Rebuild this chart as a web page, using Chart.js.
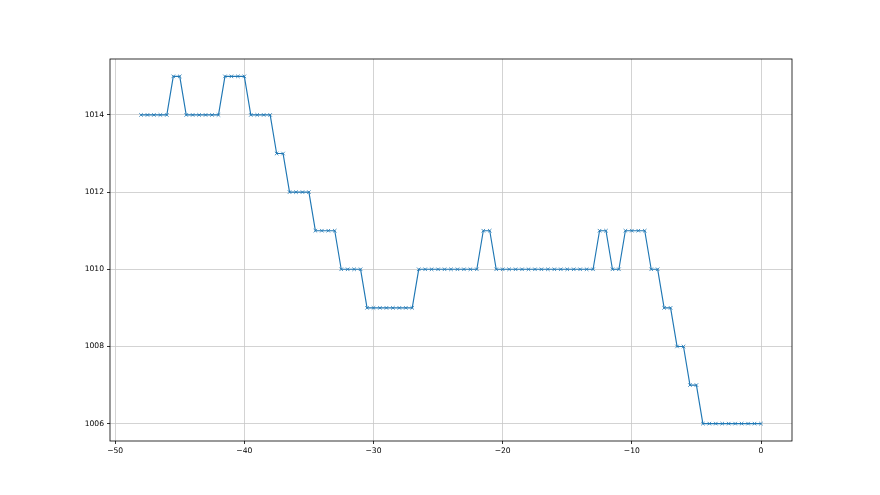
<!DOCTYPE html>
<html>
<head>
<meta charset="utf-8">
<script src="https://cdn.jsdelivr.net/npm/chart.js@4/dist/chart.umd.min.js"></script>
<style>
  html, body { margin: 0; padding: 0; background: #fff; }
  canvas { display: block; }
</style>
</head>
<body>
<canvas id="chart" width="880" height="495"></canvas>
<script>
// hours before now
const times = [
  -48, -47.5, -47, -46.5, -46, -45.5, -45, -44.5, -44, -43.5,
  -43, -42.5, -42, -41.5, -41, -40.5, -40, -39.5, -39, -38.5,
  -38, -37.5, -37, -36.5, -36, -35.5, -35, -34.5, -34, -33.5,
  -33, -32.5, -32, -31.5, -31, -30.5, -30, -29.5, -29, -28.5,
  -28, -27.5, -27, -26.5, -26, -25.5, -25, -24.5, -24, -23.5,
  -23, -22.5, -22, -21.5, -21, -20.5, -20, -19.5, -19, -18.5,
  -18, -17.5, -17, -16.5, -16, -15.5, -15, -14.5, -14, -13.5,
  -13, -12.5, -12, -11.5, -11, -10.5, -10, -9.5, -9, -8.5,
  -8, -7.5, -7, -6.5, -6, -5.5, -5, -4.5, -4, -3.5,
  -3, -2.5, -2, -1.5, -1, -0.5, 0
];

// pressure (hPa)
const pressure = [
  1014, 1014, 1014, 1014, 1014, 1015, 1015, 1014, 1014, 1014,
  1014, 1014, 1014, 1015, 1015, 1015, 1015, 1014, 1014, 1014,
  1014, 1013, 1013, 1012, 1012, 1012, 1012, 1011, 1011, 1011,
  1011, 1010, 1010, 1010, 1010, 1009, 1009, 1009, 1009, 1009,
  1009, 1009, 1009, 1010, 1010, 1010, 1010, 1010, 1010, 1010,
  1010, 1010, 1010, 1011, 1011, 1010, 1010, 1010, 1010, 1010,
  1010, 1010, 1010, 1010, 1010, 1010, 1010, 1010, 1010, 1010,
  1010, 1011, 1011, 1010, 1010, 1011, 1011, 1011, 1011, 1010,
  1010, 1009, 1009, 1008, 1008, 1007, 1007, 1006, 1006, 1006,
  1006, 1006, 1006, 1006, 1006, 1006, 1006
];

const xTicks = [-50, -40, -30, -20, -10, 0];
const yTicks = [1006, 1008, 1010, 1012, 1014];

const points = times.map((t, i) => ({ x: t, y: pressure[i] }));

// matplotlib-like frame round the axes
const framePlugin = {
  id: "frame",
  afterDraw(chart) {
    const { ctx, chartArea: a } = chart;
    ctx.save();
    ctx.strokeStyle = "#000";
    ctx.lineWidth = 0.8;
    ctx.strokeRect(a.left, a.top, a.right - a.left, a.bottom - a.top);
    ctx.restore();
  },
};

const tickFont = { family: "DejaVu Sans", size: 7.6 };
const fmt = (v) => String(v).replace("-", "\u2212");

new Chart(document.getElementById("chart"), {
  type: "scatter",
  data: {
    datasets: [
      {
        data: points,
        showLine: true,
        borderColor: "#1f77b4",
        backgroundColor: "#1f77b4",
        borderWidth: 1.15,
        pointStyle: "crossRot",
        pointRadius: 2.5,
        pointBorderWidth: 0.8,
        pointBorderColor: "#1f77b4",
        tension: 0,
      },
    ],
  },
  options: {
    responsive: false,
    devicePixelRatio: 1,
    animation: false,
    layout: { padding: { left: 0, top: 59, right: 88, bottom: 0 } },
    plugins: {
      legend: { display: false },
      tooltip: { enabled: false },
    },
    scales: {
      x: {
        type: "linear",
        min: -50.4,
        max: 2.4,
        afterBuildTicks: (s) => { s.ticks = xTicks.map((v) => ({ value: v })); },
        afterFit: (s) => { s.height = 54; },
        ticks: { color: "#000", font: tickFont, padding: 2, maxRotation: 0, callback: fmt },
        grid: {
          color: "#c8c8c8",
          lineWidth: 0.8,
          tickColor: "#000",
          tickLength: 3,
        },
        border: { display: false },
      },
      y: {
        type: "linear",
        min: 1005.55,
        max: 1015.45,
        afterBuildTicks: (s) => { s.ticks = yTicks.map((v) => ({ value: v })); },
        afterFit: (s) => { s.width = 110; },
        ticks: { color: "#000", font: tickFont, padding: 3, callback: fmt },
        grid: {
          color: "#c8c8c8",
          lineWidth: 0.8,
          tickColor: "#000",
          tickLength: 3,
        },
        border: { display: false },
      },
    },
  },
  plugins: [framePlugin],
});
</script>
</body>
</html>
